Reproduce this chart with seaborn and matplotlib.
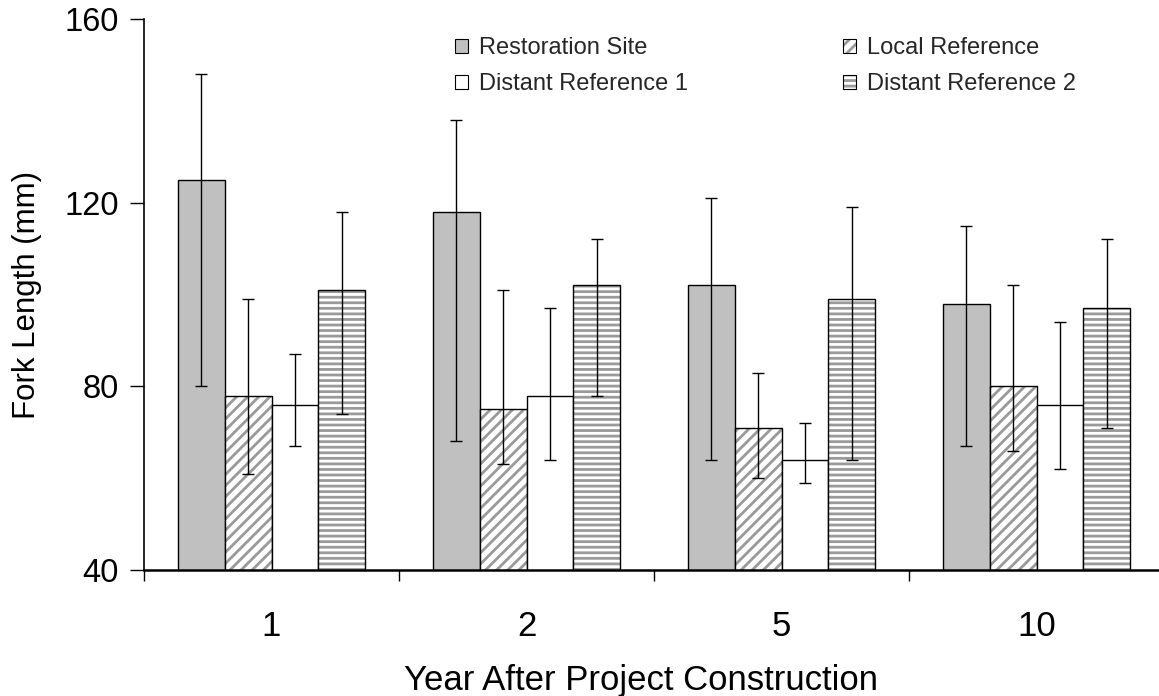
import matplotlib
matplotlib.use("Agg")
import matplotlib.pyplot as plt
import matplotlib.colors as mcolors
from matplotlib.ticker import FixedLocator
import numpy as np
import pandas as pd
import seaborn as sns

# ---- data ----
years = ["1", "2", "5", "10"]
series_names = ["Restoration Site", "Local Reference", "Distant Reference 1", "Distant Reference 2"]

restoration = [125, 118, 102, 98]
restoration_low = [80, 68, 64, 67]
restoration_high = [148, 138, 121, 115]

local_ref = [78, 75, 71, 80]
local_ref_low = [61, 63, 60, 66]
local_ref_high = [99, 101, 83, 102]

distant1 = [76, 78, 64, 76]
distant1_low = [67, 64, 59, 62]
distant1_high = [87, 97, 72, 94]

distant2 = [101, 102, 99, 97]
distant2_low = [74, 78, 64, 71]
distant2_high = [118, 112, 119, 112]

y_ticks = [40, 80, 120, 160]

means = [restoration, local_ref, distant1, distant2]
lows = [restoration_low, local_ref_low, distant1_low, distant2_low]
highs = [restoration_high, local_ref_high, distant1_high, distant2_high]

rows = []
for name, m in zip(series_names, means):
    for yr, v in zip(years, m):
        rows.append({"Year": yr, "Series": name, "Fork Length": v})
df = pd.DataFrame(rows)

# ---- style ----
sns.set_theme(style="white")
plt.rcParams["font.family"] = ["Liberation Sans", "DejaVu Sans"]
plt.rcParams["hatch.linewidth"] = 2.0

fill_colors = ["#c0c0c0", "#ffffff", "#ffffff", "#ffffff"]
hatches = [None, "///", None, "---"]
hatch_color = mcolors.to_rgba("#9a9a9a")

fig = plt.figure(figsize=(11.59, 6.96), dpi=100)
W, H = 1159, 696
ax = fig.add_axes([144 / W, (H - 570) / H, 1020 / W, 551 / H])

sns.barplot(data=df, x="Year", y="Fork Length", hue="Series", order=years,
            hue_order=series_names, palette=fill_colors, width=0.733,
            edgecolor="black", linewidth=1.0, legend=False, ax=ax)

for cont, hatch, low, high, m in zip(ax.containers, hatches, lows, highs, means):
    xs = []
    for p in cont.patches:
        if hatch:
            p.set_hatch(hatch)
            p._hatch_color = hatch_color
        xs.append(p.get_x() + p.get_width() / 2)
    m = np.asarray(m, float)
    yerr = [m - np.asarray(low, float), np.asarray(high, float) - m]
    ax.errorbar(xs, m, yerr=yerr, fmt="none", ecolor="black", elinewidth=1.0,
                capsize=4.5, capthick=1.0, zorder=3)

ax.set_ylim(40, 160)
ax.set_xlim(-0.5, 3.5)
ax.set_yticks(y_ticks)
ax.set_yticklabels([str(t) for t in y_ticks])
ax.xaxis.set_minor_locator(FixedLocator([-0.5, 0.5, 1.5, 2.5, 3.5]))

for s in ["top", "right"]:
    ax.spines[s].set_visible(False)
ax.spines["left"].set_color("black")
ax.spines["left"].set_linewidth(1.2)
ax.spines["bottom"].set_color("black")
ax.spines["bottom"].set_linewidth(1.8)

ax.tick_params(axis="y", which="major", direction="out", length=10, width=1.0,
               color="black", left=True, labelsize=23.5, pad=8, labelcolor="black")
ax.tick_params(axis="x", which="major", length=0, labelsize=25, pad=29, labelcolor="black")
ax.tick_params(axis="x", which="minor", direction="out", length=8, width=1.0,
               color="black", bottom=True)

ax.set_xlabel("Year After Project Construction", fontsize=25, color="black")
ax.xaxis.set_label_coords((641 - 144) / 1020, -94 / 551)
ax.set_ylabel("Fork Length (mm)", fontsize=22.5, color="black", labelpad=16)

# legend, row-major order
order = [0, 2, 1, 3]
handles = [ax.containers[i] for i in order]
labels = [series_names[i] for i in order]
leg = ax.legend(handles, labels, ncol=2, frameon=False, fontsize=17,
                loc="upper left", bbox_to_anchor=(455 / W, 1 - 37 / H),
                bbox_transform=fig.transFigure, handlelength=0.55, handleheight=0.55,
                handletextpad=0.45, columnspacing=6.6, labelspacing=0.6,
                borderaxespad=0, borderpad=0)
for h in leg.legend_handles:
    h.set_linewidth(0.8)

fig.savefig("out.png", dpi=100)
